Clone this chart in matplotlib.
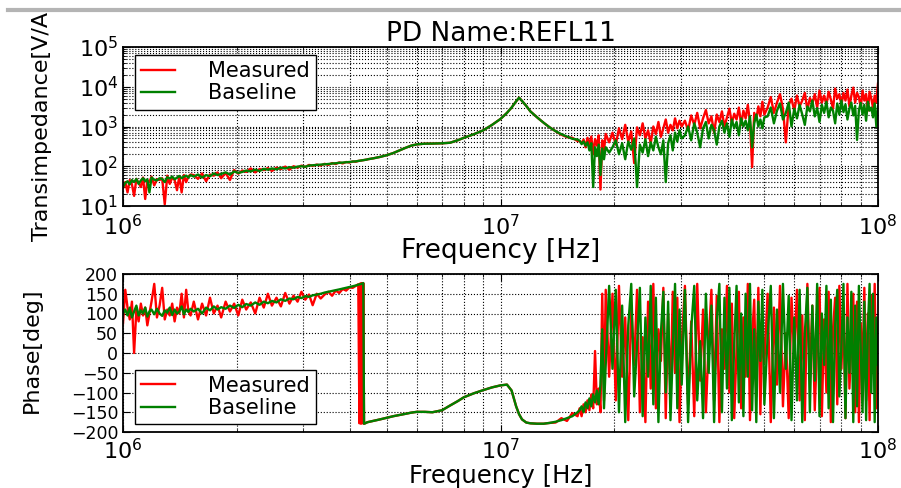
import numpy as np
import matplotlib
matplotlib.use("Agg")
import matplotlib.pyplot as plt
from matplotlib.lines import Line2D
from matplotlib.patches import Rectangle
from matplotlib.ticker import LogLocator, MultipleLocator

plt.rcParams.update({
    "font.family": ["DejaVu Sans"],
    "mathtext.fontset": "dejavusans",
    "mathtext.default": "regular",
    "xtick.direction": "in",
    "ytick.direction": "in",
    "xtick.top": True,
    "ytick.right": True,
    "xtick.major.size": 5,
    "ytick.major.size": 5,
    "xtick.minor.size": 2.5,
    "ytick.minor.size": 2.5,
    "axes.linewidth": 1.3,
})

# ---------------- data (frequency in MHz) ----------------
freq_a = [1.000, 1.014, 1.028, 1.042, 1.056, 1.070, 1.085, 1.100, 1.115, 1.130,
          1.145, 1.160, 1.175, 1.190, 1.210, 1.230, 1.250, 1.270, 1.290, 1.310,
          1.330, 1.350, 1.370, 1.390, 1.410, 1.430, 1.450, 1.470, 1.490, 1.510]
freq_b = [1.54, 1.58, 1.62, 1.66, 1.70, 1.74, 1.78, 1.82, 1.87, 1.92,
          1.97, 2.02, 2.07, 2.12, 2.18, 2.24, 2.30, 2.36, 2.42, 2.48,
          2.55, 2.62, 2.69, 2.76, 2.83, 2.90, 2.97, 3.04, 3.11, 3.18]
freq_c = [3.26, 3.34, 3.42, 3.50, 3.58, 3.66, 3.74, 3.82, 3.90, 3.98, 4.06, 4.14]
freq_j = [4.20, 4.23, 4.25, 4.27, 4.29, 4.31, 4.33, 4.35, 4.38, 4.42]
freq_d = [4.45, 4.6, 4.8, 5.0, 5.2, 5.4, 5.6, 5.8, 6.0, 6.3,
          6.6, 7.0, 7.35, 7.7, 8.0, 8.5, 9.0, 9.5, 10.0, 10.4,
          10.7, 11.0, 11.2, 11.4, 11.7, 12.0, 12.5, 13.0, 13.5, 14.0,
          14.5, 15.0, 15.5, 16.0]
freq_e = [16.2, 16.4, 16.6, 16.8, 17.0, 17.2, 17.4, 17.6, 17.8, 18.0,
          18.2, 18.4, 18.6, 18.8, 19.0, 19.4]
freq_f = [19.8, 20.2, 20.6, 21.0, 21.4, 21.8, 22.2, 22.6, 23.0, 23.4,
          23.8, 24.2, 24.6, 25.0, 25.4, 25.8, 26.2, 26.6, 27.0, 27.4,
          27.8, 28.2, 28.6, 29.0, 29.4, 29.8, 30.2,
          30.8, 31.4, 32.0, 32.6, 33.2, 33.8, 34.4, 35.0, 35.6, 36.2,
          36.8, 37.4, 38.0, 38.6, 39.2, 39.8, 40.4, 41.0, 41.6, 42.2,
          42.8, 43.4, 44.0, 44.6, 45.2, 45.8, 46.4, 47.0, 47.6, 48.2,
          48.8, 49.4, 50.0,
          51, 52, 53, 54, 55, 56, 57, 58, 59, 60,
          61, 62, 63, 64, 65, 66, 67, 68, 69, 70,
          71, 72, 73, 74, 75, 76, 77, 78, 79, 80,
          81, 82, 83, 84, 85, 86, 87, 88, 89, 90,
          91, 92, 93, 94, 95, 96, 97, 98, 99, 100]

# magnitude [V/A]
mag_meas_a = [28, 40, 22, 45, 35, 18, 48, 38, 30, 52, 15, 44, 40, 55, 33, 47, 45, 50, 11, 58,
              36, 52, 45, 25, 56, 22, 60, 40, 55, 62]
mag_base_a = [30, 38, 42, 35, 45, 40, 48, 36, 44, 50, 42, 47, 22, 52, 46, 44, 50, 48, 40, 53,
              49, 55, 47, 52, 57, 50, 55, 58, 52, 60]
mag_meas_b = [60, 48, 66, 42, 62, 58, 70, 50, 68, 45, 80, 65, 78, 72, 88, 70, 85, 80, 90, 76,
              92, 85, 98, 82, 100, 92, 104, 96, 108, 102]
mag_base_b = [55, 62, 52, 60, 56, 66, 60, 64, 70, 62, 74, 68, 72, 78, 74, 82, 76, 86, 82, 88,
              84, 92, 88, 95, 92, 98, 100, 97, 104, 106]
mag_meas_c = [110, 104, 115, 108, 120, 114, 125, 118, 128, 124, 132, 130]
mag_base_c = [108, 110, 112, 114, 117, 119, 122, 124, 126, 128, 131, 133]
mag_meas_j = [136, 137, 138, 139, 140, 141, 142, 143, 145, 147]
mag_base_j = [136, 137, 138, 139, 140, 141, 142, 143, 145, 147]
mag_meas_d = [150, 158, 172, 190, 215, 250, 290, 330, 355, 370, 372, 378, 390, 450, 520,
              640, 800, 1100, 1550, 2200, 3000, 4300, 5300, 4400, 3300, 2400, 1700, 1250,
              950, 760, 620, 540, 520, 430]
mag_base_d = [150, 158, 172, 190, 215, 250, 290, 330, 355, 370, 372, 378, 390, 450, 520,
              640, 800, 1100, 1550, 2200, 3000, 4300, 5300, 4400, 3300, 2400, 1700, 1250,
              950, 760, 640, 560, 490, 470]
mag_meas_e = [430, 380, 470, 300, 520, 350, 560, 200, 480, 330, 600, 26, 450, 250, 650, 400]
mag_base_e = [440, 360, 420, 330, 400, 250, 380, 30, 300, 180, 350, 60, 280, 150, 300, 220]
mag_meas_f = [700, 350, 900, 480, 1100, 420, 750, 120, 950, 600,
              1200, 500, 800, 380, 1000, 650, 1300, 550, 900, 1500,
              700, 1100, 800, 1600, 900, 1400, 1000,
              1400, 800, 1900, 1100, 2200, 900, 1600, 2600, 1200, 1800,
              700, 2000, 1300, 2400, 1000, 1700, 2800, 1200, 2100, 1500,
              3000, 1100, 2500, 1600, 3500, 1300, 95, 2200, 1500, 3200,
              1800, 4200, 2000,
              3000, 5500, 2200, 4000, 6500, 2800, 400, 3500, 5000, 2500,
              6000, 3200, 4500, 7000, 2600, 5200, 3800, 6500, 3000, 8000,
              4000, 6000, 3500, 7500, 4800, 2800, 9000, 5000, 6500, 3500,
              7000, 4500, 8500, 3200, 6000, 9500, 4000, 7000, 5500, 3000,
              8000, 4500, 6500, 2500, 7500, 5000, 3000, 6000, 4000, 12000]
mag_base_f = [300, 450, 200, 380, 150, 420, 260, 500, 30, 350,
              220, 480, 180, 400, 250, 550, 300, 200, 450, 40,
              380, 600, 250, 700, 420, 800, 500,
              600, 1000, 450, 1200, 700, 300, 900, 1300, 500, 1100,
              800, 350, 1000, 1400, 700, 1200, 550, 1500, 900, 1300,
              600, 1600, 1000, 1400, 800, 1800, 300, 1200, 2000, 1000,
              1500, 900, 1700,
              1800, 3000, 1200, 2500, 3800, 1500, 2200, 4000, 1000, 2800,
              1600, 3500, 2000, 1100, 3200, 2400, 4500, 1800, 2900, 1300,
              3500, 2200, 4200, 1700, 3000, 2500, 1200, 3800, 2000, 4500,
              2300, 3600, 1500, 2800, 4000, 1900, 3300, 460, 2600, 3900,
              2000, 3500, 1400, 4200, 2500, 3000, 1700, 3800, 1000, 3200]

# phase [deg]
ph_meas_a = [75, 160, 115, 85, 130, 0, 110, 80, 125, 95, 115, 70, 100, 130, 175, 90, 120, 165,
             85, 110, 95, 125, 80, 115, 100, 150, 90, 160, 105, 95]
ph_base_a = [100, 110, 95, 115, 90, 105, 120, 95, 108, 100, 115, 92, 105, 110, 98, 112, 100,
             94, 108, 102, 115, 96, 110, 100, 105, 118, 98, 110, 104, 112]
ph_meas_b = [130, 85, 125, 95, 140, 100, 120, 90, 130, 105, 125, 95, 135, 110, 128, 100, 140,
             115, 150, 120, 140, 118, 152, 125, 145, 130, 155, 135, 148, 121]
ph_base_b = [105, 112, 100, 115, 108, 118, 110, 116, 112, 120, 114, 122, 116, 124, 120, 128,
             122, 130, 126, 132, 128, 136, 132, 138, 136, 142, 139, 144, 142, 146]
ph_meas_c = [150, 138, 148, 155, 145, 158, 152, 162, 158, 166, 165, 170]
ph_base_c = [148, 150, 153, 155, 157, 159, 161, 163, 165, 167, 169, 171]
ph_meas_j = [174, -178, 176, -179, 177, -178, 177, -179, -178, -176]
ph_base_j = [173, 174, 174, 175, 175, 176, 177, -179, -178, -176]
ph_meas_d = [-175, -172, -168, -164, -160, -157, -154, -151, -149, -149, -150, -145, -133,
             -122, -112, -102, -94, -87, -82, -80, -95, -135, -155, -168, -176, -178, -179,
             -179, -177, -176, -165, -172, -152, -160]
ph_base_d = [-175, -172, -168, -164, -160, -157, -154, -151, -149, -149, -150, -145, -133,
             -122, -112, -102, -94, -87, -82, -80, -95, -135, -155, -168, -176, -178, -179,
             -179, -177, -174, -170, -165, -160, -150]
ph_meas_e = [-140, -160, -130, -150, -120, -145, -105, -140, 5, -130, -90, -150, 150, -120,
             160, -60]
ph_base_e = [-145, -135, -150, -125, -140, -115, -135, -105, -125, -95, -130, -80, 60, -140,
             -30, 170]
ph_meas_f = [150, -120, 170, -60, 90, -170, 120, -30, 160, -150,
             40, -175, 130, -90, 175, -140, 60, -20, 165, -165,
             100, -110, 155, -50, 140, -175, 20, 170, -130, 80,
             -160, 175, -70, 110, -150, 30, 160, -120, 145, -175,
             60, -40, 170, -100, 125, -165, 10, 155, -140, 90,
             -60, 175, -170, 40, 135, -110, 165, -155, 70, -25,
             150, -175, 115, -80, 170, -135, 50, -165, 140, -10,
             160, -120, 95, -170, 175, -55, 120, -145, 30, 165,
             -160, 85, -100, 155, -175, 60, 140, -130, 170, -40,
             110, -165, 175, -90, 20, 150, -150, 130, -175, 75,
             -60, 165, -120, 100, -170, 145, -30, 175, -140, 50]
ph_base_f = [-40, 160, -150, 120, -175, 70, 175, -110, 20, 165,
             -160, 90, -60, 170, -130, 140, -175, 50, 155, -100,
             130, -170, 0, 175, -140, 110, -80, 160, -175, 60,
             170, -120, 30, -165, 150, -50, 120, -175, 80, 175,
             -150, 140, -90, 165, -170, 20, 170, -125, 100, -160,
             150, -60, 175, -145, 60, -175, 130, -20, 160, -130,
             40, 170, -165, 110, -100, 175, -40, 145, -170, 90,
             -120, 160, -175, 50, 165, -150, 120, -70, 175, -160,
             100, -30, 170, -140, 135, -175, 70, 160, -110, 20,
             175, -165, 90, -50, 155, -175, 120, -135, 170, 10,
             -150, 130, -170, 60, 175, -100, 150, -175, 90, -30]

freq_hz = np.array(freq_a + freq_b + freq_c + freq_j + freq_d + freq_e + freq_f) * 1e6
mag_meas = np.array(mag_meas_a + mag_meas_b + mag_meas_c + mag_meas_j + mag_meas_d + mag_meas_e + mag_meas_f)
mag_base = np.array(mag_base_a + mag_base_b + mag_base_c + mag_base_j + mag_base_d + mag_base_e + mag_base_f)
ph_meas = np.array(ph_meas_a + ph_meas_b + ph_meas_c + ph_meas_j + ph_meas_d + ph_meas_e + ph_meas_f)
ph_base = np.array(ph_base_a + ph_base_b + ph_base_c + ph_base_j + ph_base_d + ph_base_e + ph_base_f)

series_labels = ["Measured", "Baseline"]
red = "#ff0000"
green = "#008000"
LW = 1.7

# ---------------- figure ----------------
W, H = 901, 488
fig = plt.figure(figsize=(W / 100, H / 100), dpi=100)
ax1 = fig.add_axes([123 / W, 1 - 206 / H, 755 / W, 159 / H])
ax2 = fig.add_axes([123 / W, 1 - 432 / H, 755 / W, 158 / H])

legend_kw = dict(borderaxespad=0, fontsize=15, handlelength=1.6, handletextpad=1.6,
                 borderpad=0.3, labelspacing=0.1, fancybox=False, framealpha=1,
                 edgecolor="k")

ax1.loglog(freq_hz, mag_meas, color=red, lw=LW, label=series_labels[0])
ax1.loglog(freq_hz, mag_base, color=green, lw=LW, label=series_labels[1])
ax1.set_xlim(1e6, 1e8)
ax1.set_ylim(1e1, 1e5)
ax1.yaxis.set_major_locator(LogLocator(base=10, numticks=10))
ax1.yaxis.set_minor_locator(LogLocator(base=10, subs=np.arange(2, 10), numticks=20))
ax1.grid(True, which="both", linestyle=":", color="k", linewidth=0.8)
ax1.set_title("PD Name:REFL11", fontsize=19, pad=4)
ax1.set_xlabel("Frequency [Hz]", fontsize=19, labelpad=-1)
ax1.set_ylabel("Transimpedance[V/A]", fontsize=16)
ax1.yaxis.set_label_coords((52 - 123) / 755, 0.53)
ax1.tick_params(axis="y", labelsize=16)
ax1.tick_params(axis="x", labelsize=16, pad=6)
ax1.legend(loc="upper left", bbox_to_anchor=(0.016, 0.95), **legend_kw)

ax2.semilogx(freq_hz, ph_meas, color=red, lw=LW, label=series_labels[0])
ax2.semilogx(freq_hz, ph_base, color=green, lw=LW, label=series_labels[1])
ax2.set_xlim(1e6, 1e8)
ax2.set_ylim(-200, 200)
ax2.yaxis.set_major_locator(MultipleLocator(50))
ax2.grid(True, which="major", linestyle=":", color="k", linewidth=0.8)
ax2.grid(True, which="minor", axis="x", linestyle=":", color="k", linewidth=0.8)
ax2.set_xlabel("Frequency [Hz]", fontsize=17.5, labelpad=1)
ax2.set_ylabel("Phase[deg]", fontsize=16)
ax2.yaxis.set_label_coords((42 - 123) / 755, 0.515)
ax2.tick_params(axis="y", labelsize=12.5)
ax2.tick_params(axis="x", labelsize=16, pad=4)
ax2.legend(loc="lower left", bbox_to_anchor=(0.016, 0.05), **legend_kw)

# cropped top edge of the screenshot
fig.add_artist(Rectangle((0, 1 - 9 / H), 1, 9 / H, transform=fig.transFigure,
                         facecolor="white", edgecolor="none", zorder=20))
fig.add_artist(Line2D([8 / W, 1], [1 - 10 / H, 1 - 10 / H], transform=fig.transFigure,
                      color="#b4b4b4", lw=3, zorder=21))

fig.savefig("out.png", dpi=100)
